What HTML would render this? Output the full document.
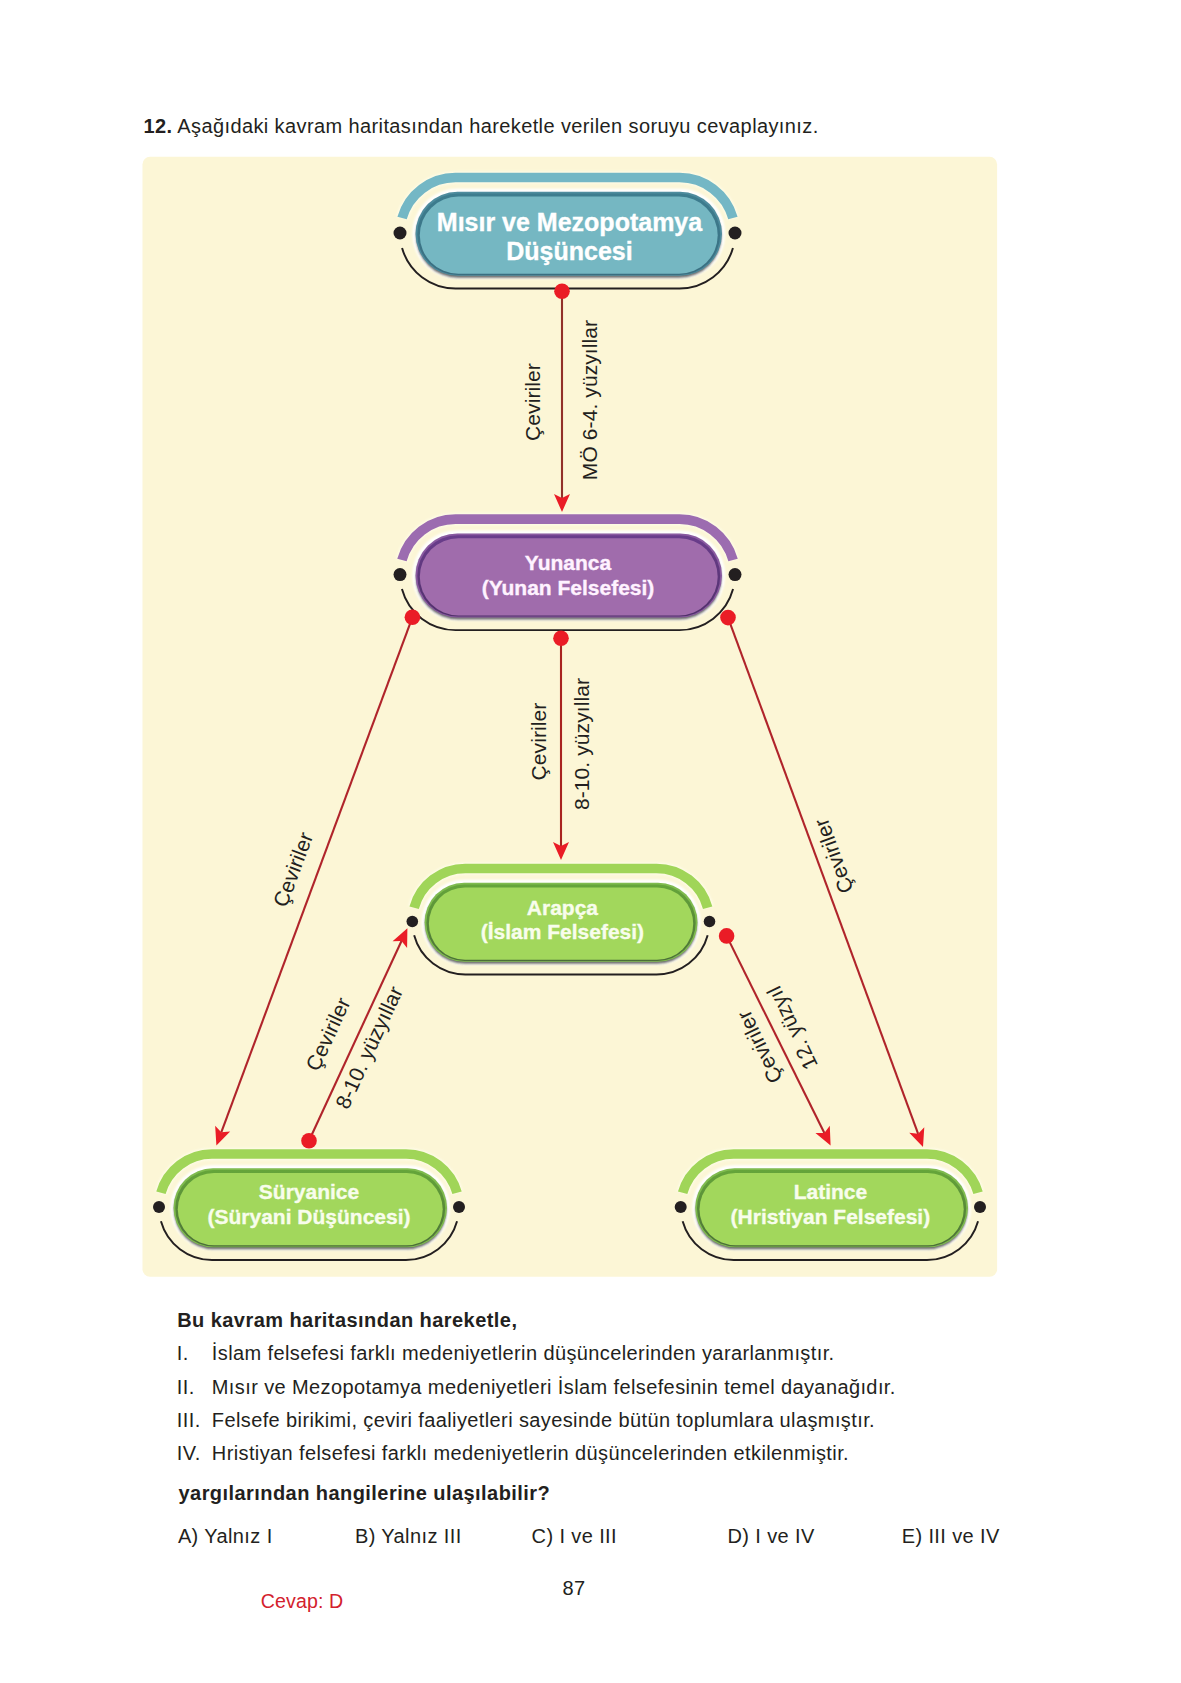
<!DOCTYPE html>
<html><head><meta charset="utf-8"><style>
html,body{margin:0;padding:0;background:#fff;}
body{width:1181px;height:1683px;position:relative;overflow:hidden;font-family:"Liberation Sans",sans-serif;}
svg{position:absolute;left:0;top:0;}
.nt{font-family:"Liberation Sans",sans-serif;font-weight:700;fill:#fff;stroke:#fff;stroke-width:0.35px}
.lb{font-family:"Liberation Sans",sans-serif;fill:#231F20;letter-spacing:0.1px}
.tx{font-family:"Liberation Sans",sans-serif;fill:#231F20;font-size:20px;letter-spacing:0.39px}
.tx.b{font-weight:700;letter-spacing:0.44px}
.b{font-weight:700}
</style></head><body>
<svg width="1181" height="1683" viewBox="0 0 1181 1683">
<defs><filter id="blur1" x="-10%" y="-20%" width="120%" height="140%"><feGaussianBlur stdDeviation="1.1"/></filter></defs>
<text x="143.5" y="133" class="tx"><tspan class="b">12.</tspan> Aşağıdaki kavram haritasından hareketle verilen soruyu cevaplayınız.</text>
<rect x="142.5" y="156.7" width="854.6" height="1120.1" rx="7.5" fill="#FCF6D6"/>
<line x1="562" y1="291.3" x2="562.00" y2="497.96" stroke="#92302A" stroke-width="2.1"/>
<path d="M562.00,512.00 L554.00,494.00 L562.00,497.96 L570.00,494.00 Z" fill="#EA1C26"/>
<line x1="561" y1="638.2" x2="561.00" y2="845.96" stroke="#A8231F" stroke-width="2.1"/>
<path d="M561.00,860.00 L553.00,842.00 L561.00,845.96 L569.00,842.00 Z" fill="#EA1C26"/>
<line x1="412.4" y1="617.3" x2="221.28" y2="1132.34" stroke="#B0242B" stroke-width="2.1"/>
<path d="M216.40,1145.50 L215.16,1125.84 L221.28,1132.34 L230.16,1131.41 Z" fill="#EA1C26"/>
<line x1="309" y1="1140.7" x2="401.50" y2="940.94" stroke="#B0242B" stroke-width="2.1"/>
<path d="M407.40,928.20 L407.10,947.90 L401.50,940.94 L392.58,941.17 Z" fill="#EA1C26"/>
<line x1="728" y1="617.6" x2="918.15" y2="1133.83" stroke="#B0242B" stroke-width="2.1"/>
<path d="M923.00,1147.00 L909.27,1132.87 L918.15,1133.83 L924.29,1127.34 Z" fill="#EA1C26"/>
<line x1="726.6" y1="935.9" x2="824.36" y2="1132.92" stroke="#B0242B" stroke-width="2.1"/>
<path d="M830.60,1145.50 L815.43,1132.93 L824.36,1132.92 L829.77,1125.82 Z" fill="#EA1C26"/>
<linearGradient id="rg1" x1="0" y1="0" x2="0" y2="1"><stop offset="0" stop-color="#3D7D8F"/><stop offset="1" stop-color="#3A6E80"/></linearGradient>
<path d="M402.07,248.00 A55.5,55.5 0 0 0 455.50,288.50 L679.50,288.50 A55.5,55.5 0 0 0 732.93,248.00" fill="none" stroke="#231F20" stroke-width="1.95"/>
<circle cx="400" cy="233" r="6.5" fill="#231F20"/>
<circle cx="735" cy="233" r="6.5" fill="#231F20"/>
<path d="M402.07,218.00 A55.5,55.5 0 0 1 455.50,177.50 L679.50,177.50 A55.5,55.5 0 0 1 732.93,218.00" fill="none" stroke="#FFFFF0" stroke-width="12.2" opacity="0.7" filter="url(#blur1)"/>
<path d="M402.07,218.00 A55.5,55.5 0 0 1 455.50,177.50 L679.50,177.50 A55.5,55.5 0 0 1 732.93,218.00" fill="none" stroke="#74B7C5" stroke-width="9.7"/>
<rect x="412.50" y="188.80" width="312.50" height="90.00" rx="45.00" fill="#FFFFFF" filter="url(#blur1)"/>
<rect x="416.00" y="193.80" width="305.50" height="84.00" rx="42.00" fill="#3a3a3a" opacity="0.75" filter="url(#blur1)"/>
<rect x="415.50" y="191.80" width="306.50" height="84.00" rx="42.00" fill="#4E8C9E"/>
<rect x="417.30" y="193.60" width="302.90" height="81.40" rx="40.50" fill="url(#rg1)"/>
<rect x="419.80" y="196.60" width="297.90" height="77.20" rx="38.60" fill="#75B7C2"/>
<text x="569.5" y="230.8" text-anchor="middle" class="nt" style="fill:#fff;stroke:#fff;font-size:25px;letter-spacing:-0.08pxpx">Mısır ve Mezopotamya</text>
<text x="569.5" y="260.4" text-anchor="middle" class="nt" style="fill:#fff;stroke:#fff;font-size:25px;letter-spacing:-0.08pxpx">Düşüncesi</text>
<linearGradient id="rg2" x1="0" y1="0" x2="0" y2="1"><stop offset="0" stop-color="#6A3D8C"/><stop offset="1" stop-color="#50306A"/></linearGradient>
<path d="M401.93,589.10 A55.5,55.5 0 0 0 455.50,630.10 L679.50,630.10 A55.5,55.5 0 0 0 733.07,589.10" fill="none" stroke="#231F20" stroke-width="1.95"/>
<circle cx="400" cy="574.6" r="6.5" fill="#231F20"/>
<circle cx="735" cy="574.6" r="6.5" fill="#231F20"/>
<path d="M401.93,560.10 A55.5,55.5 0 0 1 455.50,519.10 L679.50,519.10 A55.5,55.5 0 0 1 733.07,560.10" fill="none" stroke="#FFFFF0" stroke-width="12.2" opacity="0.7" filter="url(#blur1)"/>
<path d="M401.93,560.10 A55.5,55.5 0 0 1 455.50,519.10 L679.50,519.10 A55.5,55.5 0 0 1 733.07,560.10" fill="none" stroke="#9C6CB0" stroke-width="9.7"/>
<rect x="412.50" y="530.40" width="312.50" height="90.00" rx="45.00" fill="#FFFFFF" filter="url(#blur1)"/>
<rect x="416.00" y="535.40" width="305.50" height="84.00" rx="42.00" fill="#3a3a3a" opacity="0.75" filter="url(#blur1)"/>
<rect x="415.50" y="533.40" width="306.50" height="84.00" rx="42.00" fill="#8A5AA0"/>
<rect x="417.30" y="535.20" width="302.90" height="81.40" rx="40.50" fill="url(#rg2)"/>
<rect x="419.80" y="538.20" width="297.90" height="77.20" rx="38.60" fill="#A06CAC"/>
<text x="568.0" y="570.2" text-anchor="middle" class="nt" style="fill:#FFF2FF;stroke:#FFF2FF;font-size:21px;letter-spacing:-0.1pxpx">Yunanca</text>
<text x="568.0" y="594.8" text-anchor="middle" class="nt" style="fill:#FFF2FF;stroke:#FFF2FF;font-size:21px;letter-spacing:-0.1pxpx">(Yunan Felsefesi)</text>
<linearGradient id="rg3" x1="0" y1="0" x2="0" y2="1"><stop offset="0" stop-color="#65A53A"/><stop offset="1" stop-color="#4A6E38"/></linearGradient>
<path d="M414.13,935.30 A53,53 0 0 0 465.30,974.50 L656.50,974.50 A53,53 0 0 0 707.67,935.30" fill="none" stroke="#231F20" stroke-width="1.95"/>
<circle cx="412.3" cy="921.5" r="5.8" fill="#231F20"/>
<circle cx="709.5" cy="921.5" r="5.8" fill="#231F20"/>
<path d="M414.13,907.70 A53,53 0 0 1 465.30,868.50 L656.50,868.50 A53,53 0 0 1 707.67,907.70" fill="none" stroke="#FFFFF0" stroke-width="12.2" opacity="0.7" filter="url(#blur1)"/>
<path d="M414.13,907.70 A53,53 0 0 1 465.30,868.50 L656.50,868.50 A53,53 0 0 1 707.67,907.70" fill="none" stroke="#A0D558" stroke-width="9.7"/>
<rect x="421.60" y="879.80" width="278.90" height="85.00" rx="42.50" fill="#FFFFFF" filter="url(#blur1)"/>
<rect x="425.10" y="884.80" width="271.90" height="79.00" rx="39.50" fill="#3a3a3a" opacity="0.75" filter="url(#blur1)"/>
<rect x="424.60" y="882.80" width="272.90" height="79.00" rx="39.50" fill="#7FBB4E"/>
<rect x="426.40" y="884.60" width="269.30" height="76.40" rx="38.00" fill="url(#rg3)"/>
<rect x="428.90" y="887.60" width="264.30" height="72.20" rx="36.10" fill="#A2D75C"/>
<text x="562.4" y="914.6" text-anchor="middle" class="nt" style="fill:#F8FDEC;stroke:#F8FDEC;font-size:21px;letter-spacing:-0.1pxpx">Arapça</text>
<text x="562.4" y="939" text-anchor="middle" class="nt" style="fill:#F8FDEC;stroke:#F8FDEC;font-size:21px;letter-spacing:-0.1pxpx">(İslam Felsefesi)</text>
<linearGradient id="rg4" x1="0" y1="0" x2="0" y2="1"><stop offset="0" stop-color="#65A53A"/><stop offset="1" stop-color="#4A6E38"/></linearGradient>
<path d="M160.94,1221.20 A53,53 0 0 0 212.00,1260.00 L406.00,1260.00 A53,53 0 0 0 457.06,1221.20" fill="none" stroke="#231F20" stroke-width="1.95"/>
<circle cx="159" cy="1207" r="6" fill="#231F20"/>
<circle cx="459" cy="1207" r="6" fill="#231F20"/>
<path d="M160.94,1192.80 A53,53 0 0 1 212.00,1154.00 L406.00,1154.00 A53,53 0 0 1 457.06,1192.80" fill="none" stroke="#FFFFF0" stroke-width="12.2" opacity="0.7" filter="url(#blur1)"/>
<path d="M160.94,1192.80 A53,53 0 0 1 212.00,1154.00 L406.00,1154.00 A53,53 0 0 1 457.06,1192.80" fill="none" stroke="#A0D558" stroke-width="9.7"/>
<rect x="170.50" y="1165.30" width="279.50" height="85.00" rx="42.50" fill="#FFFFFF" filter="url(#blur1)"/>
<rect x="174.00" y="1170.30" width="272.50" height="79.00" rx="39.50" fill="#3a3a3a" opacity="0.75" filter="url(#blur1)"/>
<rect x="173.50" y="1168.30" width="273.50" height="79.00" rx="39.50" fill="#7FBB4E"/>
<rect x="175.30" y="1170.10" width="269.90" height="76.40" rx="38.00" fill="url(#rg4)"/>
<rect x="177.80" y="1173.10" width="264.90" height="72.20" rx="36.10" fill="#A2D75C"/>
<text x="309.0" y="1199" text-anchor="middle" class="nt" style="fill:#F8FDEC;stroke:#F8FDEC;font-size:21px;letter-spacing:-0.1pxpx">Süryanice</text>
<text x="309.0" y="1223.6" text-anchor="middle" class="nt" style="fill:#F8FDEC;stroke:#F8FDEC;font-size:21px;letter-spacing:-0.1pxpx">(Süryani Düşüncesi)</text>
<linearGradient id="rg5" x1="0" y1="0" x2="0" y2="1"><stop offset="0" stop-color="#65A53A"/><stop offset="1" stop-color="#4A6E38"/></linearGradient>
<path d="M682.64,1221.20 A53,53 0 0 0 733.70,1260.00 L927.00,1260.00 A53,53 0 0 0 978.06,1221.20" fill="none" stroke="#231F20" stroke-width="1.95"/>
<circle cx="680.7" cy="1207" r="6" fill="#231F20"/>
<circle cx="980" cy="1207" r="6" fill="#231F20"/>
<path d="M682.64,1192.80 A53,53 0 0 1 733.70,1154.00 L927.00,1154.00 A53,53 0 0 1 978.06,1192.80" fill="none" stroke="#FFFFF0" stroke-width="12.2" opacity="0.7" filter="url(#blur1)"/>
<path d="M682.64,1192.80 A53,53 0 0 1 733.70,1154.00 L927.00,1154.00 A53,53 0 0 1 978.06,1192.80" fill="none" stroke="#A0D558" stroke-width="9.7"/>
<rect x="692.20" y="1165.30" width="278.80" height="85.00" rx="42.50" fill="#FFFFFF" filter="url(#blur1)"/>
<rect x="695.70" y="1170.30" width="271.80" height="79.00" rx="39.50" fill="#3a3a3a" opacity="0.75" filter="url(#blur1)"/>
<rect x="695.20" y="1168.30" width="272.80" height="79.00" rx="39.50" fill="#7FBB4E"/>
<rect x="697.00" y="1170.10" width="269.20" height="76.40" rx="38.00" fill="url(#rg5)"/>
<rect x="699.50" y="1173.10" width="264.20" height="72.20" rx="36.10" fill="#A2D75C"/>
<text x="830.4" y="1199" text-anchor="middle" class="nt" style="fill:#F8FDEC;stroke:#F8FDEC;font-size:21px;letter-spacing:-0.1pxpx">Latince</text>
<text x="830.4" y="1223.6" text-anchor="middle" class="nt" style="fill:#F8FDEC;stroke:#F8FDEC;font-size:21px;letter-spacing:-0.1pxpx">(Hristiyan Felsefesi)</text>
<text transform="translate(533,402) rotate(-90)" x="0" y="0" dy="0.35em" text-anchor="middle" class="lb" style="font-size:21px">Çeviriler</text>
<text transform="translate(590,400) rotate(-90)" x="0" y="0" dy="0.35em" text-anchor="middle" class="lb" style="font-size:21px">MÖ 6-4. yüzyıllar</text>
<text transform="translate(539,741.5) rotate(-90)" x="0" y="0" dy="0.35em" text-anchor="middle" class="lb" style="font-size:21px">Çeviriler</text>
<text transform="translate(582,744) rotate(-90)" x="0" y="0" dy="0.35em" text-anchor="middle" class="lb" style="font-size:21px">8-10. yüzyıllar</text>
<text transform="translate(293,869.5) rotate(-69.6)" x="0" y="0" dy="0.35em" text-anchor="middle" class="lb" style="font-size:21px">Çeviriler</text>
<text transform="translate(328,1034) rotate(-65.2)" x="0" y="0" dy="0.35em" text-anchor="middle" class="lb" style="font-size:21px">Çeviriler</text>
<text transform="translate(369,1047.5) rotate(-65.2)" x="0" y="0" dy="0.35em" text-anchor="middle" class="lb" style="font-size:21px">8-10. yüzyıllar</text>
<text transform="translate(833.5,856) rotate(-110)" x="0" y="0" dy="0.35em" text-anchor="middle" class="lb" style="font-size:21px">Çeviriler</text>
<text transform="translate(759.5,1047) rotate(-115.8)" x="0" y="0" dy="0.35em" text-anchor="middle" class="lb" style="font-size:21px">Çeviriler</text>
<text transform="translate(792,1028) rotate(-115.8)" x="0" y="0" dy="0.35em" text-anchor="middle" class="lb" style="font-size:21px">12. yüzyıl</text>
<circle cx="562" cy="291.3" r="7.8" fill="#EA1C26"/>
<circle cx="561" cy="638.2" r="7.8" fill="#EA1C26"/>
<circle cx="412.4" cy="617.3" r="7.8" fill="#EA1C26"/>
<circle cx="309" cy="1140.7" r="7.8" fill="#EA1C26"/>
<circle cx="728" cy="617.6" r="7.8" fill="#EA1C26"/>
<circle cx="726.6" cy="935.9" r="7.8" fill="#EA1C26"/>
<text x="177.2" y="1326.8" class="tx b">Bu kavram haritasından hareketle,</text>
<text x="176.8" y="1359.9" class="tx">I.</text><text x="211.8" y="1359.9" class="tx">İslam felsefesi farklı medeniyetlerin düşüncelerinden yararlanmıştır.</text>
<text x="176.8" y="1393.8" class="tx">II.</text><text x="211.8" y="1393.8" class="tx">Mısır ve Mezopotamya medeniyetleri İslam felsefesinin temel dayanağıdır.</text>
<text x="176.8" y="1427" class="tx">III.</text><text x="211.8" y="1427" class="tx">Felsefe birikimi, çeviri faaliyetleri sayesinde bütün toplumlara ulaşmıştır.</text>
<text x="176.8" y="1459.8" class="tx">IV.</text><text x="211.8" y="1459.8" class="tx">Hristiyan felsefesi farklı medeniyetlerin düşüncelerinden etkilenmiştir.</text>
<text x="178.5" y="1499.8" class="tx b">yargılarından hangilerine ulaşılabilir?</text>
<text x="177.9" y="1543.3" class="tx">A) Yalnız I</text>
<text x="355" y="1543.3" class="tx">B) Yalnız III</text>
<text x="531.6" y="1543.3" class="tx">C) I ve III</text>
<text x="727.5" y="1543.3" class="tx">D) I ve IV</text>
<text x="901.7" y="1543.3" class="tx">E) III ve IV</text>
<text x="562.6" y="1594.7" class="tx" style="font-size:20px;letter-spacing:0.3px">87</text>
<text x="260.8" y="1607.6" style="font-family:'Liberation Sans',sans-serif;font-size:19.6px;letter-spacing:0.1px;fill:#D3212D">Cevap: D</text>
</svg>
</body></html>
